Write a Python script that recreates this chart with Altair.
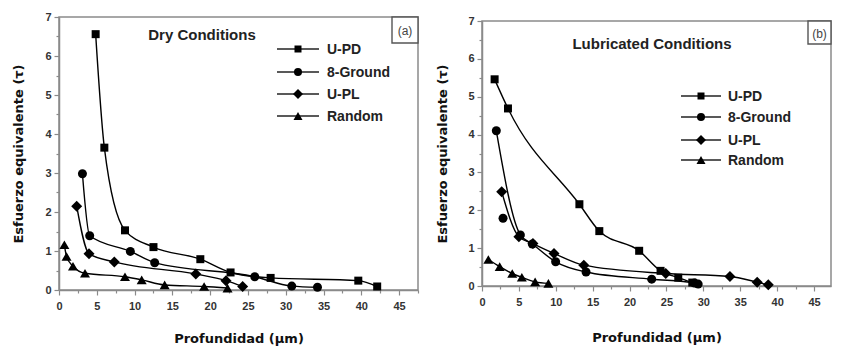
import altair as alt
import pandas as pd

series_names = ["U-PD", "8-Ground", "U-PL", "Random"]
series_shapes = ["square", "circle", "diamond", "triangle-up"]
series_sizes = [64, 81, 121, 100]
legend_sizes = [49, 64, 100, 81]

x_ticks = [0, 2.5, 5, 7.5, 10, 12.5, 15, 17.5, 20, 22.5, 25, 27.5, 30, 32.5, 35, 37.5, 40, 42.5, 45, 47.5]
y_ticks = [0, 0.5, 1, 1.5, 2, 2.5, 3, 3.5, 4, 4.5, 5, 5.5, 6, 6.5, 7]

# (a) Dry conditions
dry_upd_x = [4.85, 6.0, 8.73, 12.5, 18.7, 22.7, 28.0, 39.6, 42.1]
dry_upd_y = [6.56, 3.65, 1.53, 1.10, 0.79, 0.45, 0.31, 0.24, 0.09]
dry_8g_x = [3.1, 4.06, 9.44, 12.66, 25.9, 30.8, 34.2]
dry_8g_y = [2.98, 1.39, 0.99, 0.70, 0.34, 0.10, 0.07]
dry_upl_x = [2.34, 3.97, 7.32, 18.1, 22.1, 24.3]
dry_upl_y = [2.15, 0.93, 0.72, 0.41, 0.24, 0.09]
dry_rnd_x = [0.71, 1.0, 1.85, 3.44, 8.73, 10.94, 13.98, 19.2, 22.3]
dry_rnd_y = [1.16, 0.86, 0.61, 0.43, 0.34, 0.26, 0.13, 0.09, 0.05]

# (b) Lubricated conditions
lub_upd_x = [1.71, 3.52, 13.2, 15.9, 21.3, 24.2, 26.6, 28.5]
lub_upd_y = [5.46, 4.69, 2.16, 1.45, 0.93, 0.40, 0.22, 0.09]
lub_8g_x = [1.94, 2.85, 5.2, 6.82, 9.98, 14.1, 23.0, 28.8, 29.3]
lub_8g_y = [4.10, 1.79, 1.35, 1.11, 0.64, 0.37, 0.18, 0.08, 0.05]
lub_8g_on_curve = [1, 0, 1, 1, 1, 1, 1, 1, 1]
lub_upl_x = [2.67, 5.0, 6.9, 9.76, 13.8, 24.9, 33.6, 37.3, 38.8]
lub_upl_y = [2.49, 1.30, 1.12, 0.86, 0.55, 0.33, 0.25, 0.10, 0.03]
lub_rnd_x = [0.86, 2.4, 4.1, 5.4, 7.2, 9.0]
lub_rnd_y = [0.70, 0.51, 0.33, 0.23, 0.11, 0.07]


def make_df(xs_list, ys_list, curve_flags):
    rows = []
    for name, xs, ys, flags in zip(series_names, xs_list, ys_list, curve_flags):
        if flags is None:
            flags = [1] * len(xs)
        for xv, yv, f in zip(xs, ys, flags):
            rows.append({"series": name, "x": xv, "y": yv, "on_curve": f})
    return pd.DataFrame(rows)


dry_df = make_df([dry_upd_x, dry_8g_x, dry_upl_x, dry_rnd_x],
                 [dry_upd_y, dry_8g_y, dry_upl_y, dry_rnd_y],
                 [None, None, None, None])
lub_df = make_df([lub_upd_x, lub_8g_x, lub_upl_x, lub_rnd_x],
                 [lub_upd_y, lub_8g_y, lub_upl_y, lub_rnd_y],
                 [None, lub_8g_on_curve, None, None])

AXIS_GRAY = "#8a8a8a"


def panel(df, w, h, xmax, title_text, title_pos, tag, tag_box, leg, ytitle_pad, xtitle_pad):
    xs = alt.Scale(domain=[0, xmax], nice=False, zero=False)
    ys = alt.Scale(domain=[0, 7], nice=False, zero=False)
    base = alt.Chart(df)
    x_axis = alt.Axis(
        values=x_ticks, title="Profundidad (µm)",
        labelExpr="(datum.value % 5 === 0) ? format(datum.value, 'd') : ''",
        tickSize={"condition": {"test": "datum.value % 5 === 0", "value": 5}, "value": 3},
        labelOverlap=False, labelFlush=False,
        labelPadding=5, titlePadding=xtitle_pad, orient="bottom")
    y_axis = alt.Axis(
        values=y_ticks, title="Esfuerzo equivalente (τ)",
        labelExpr="(datum.value % 1 === 0) ? format(datum.value, 'd') : ''",
        tickSize={"condition": {"test": "datum.value % 1 === 0", "value": 5}, "value": 3},
        labelOverlap=False, labelFlush=False,
        labelPadding=3, titlePadding=ytitle_pad, orient="left")
    x_enc = alt.X("x:Q", scale=xs, axis=x_axis)
    y_enc = alt.Y("y:Q", scale=ys, axis=y_axis)
    lines = base.transform_filter("datum.on_curve == 1").mark_line(
        interpolate="monotone", color="black", strokeWidth=1.4
    ).encode(x=x_enc, y=y_enc, detail="series:N")

    layers = [lines]
    for name, shp, sz in zip(series_names, series_shapes, series_sizes):
        layers.append(
            base.transform_filter(alt.datum.series == name).mark_point(
                shape=shp, size=sz, filled=True, color="black", opacity=1, strokeWidth=0
            ).encode(x=x_enc, y=y_enc)
        )

    # title inside plot
    layers.append(
        alt.Chart(alt.Data(values=[{}])).mark_text(
            text=title_text, font="Liberation Sans", fontWeight="bold", fontSize=15,
            color="#222", align="center", baseline="middle"
        ).encode(x=alt.value(title_pos[0]), y=alt.value(title_pos[1]))
    )
    # tag box
    bx0, bx1, by0, by1 = tag_box
    layers.append(
        alt.Chart(alt.Data(values=[{}])).mark_rect(
            fill="white", stroke="#555", strokeWidth=1.4
        ).encode(x=alt.value(bx0), x2=alt.value(bx1), y=alt.value(by0), y2=alt.value(by1))
    )
    layers.append(
        alt.Chart(alt.Data(values=[{}])).mark_text(
            text=tag, font="Liberation Sans", fontSize=12, color="#444",
            align="center", baseline="middle"
        ).encode(x=alt.value((bx0 + bx1) / 2), y=alt.value((by0 + by1) / 2 + 1))
    )
    # manual legend
    lx0, lx1, ltx, lrows = leg
    for name, shp, sz, ly in zip(series_names, series_shapes, legend_sizes, lrows):
        layers.append(
            alt.Chart(alt.Data(values=[{}])).mark_rule(color="#222", strokeWidth=1.4).encode(
                x=alt.value(lx0), x2=alt.value(lx1), y=alt.value(ly))
        )
        layers.append(
            alt.Chart(alt.Data(values=[{}])).mark_point(
                shape=shp, size=sz, filled=True, color="black", opacity=1, strokeWidth=0
            ).encode(x=alt.value((lx0 + lx1) / 2), y=alt.value(ly))
        )
        layers.append(
            alt.Chart(alt.Data(values=[{}])).mark_text(
                text=name, font="Liberation Sans", fontWeight="bold", fontSize=14,
                color="#222", align="left", baseline="middle"
            ).encode(x=alt.value(ltx), y=alt.value(ly + 1))
        )
    return alt.layer(*layers).properties(width=w, height=h)


left = panel(dry_df, 359, 273, 47.5, "Dry Conditions", (143, 18), "(a)", (333, 359, 0, 26),
             (218, 260, 268, [32, 55, 77, 99]), 19, 21)
right = panel(lub_df, 349, 265, 47.3, "Lubricated Conditions", (170, 23), "(b)", (326, 349, 0, 23),
              (199, 239, 246, [75, 96, 119, 139]), 18, 24)

spacer = alt.Chart(alt.Data(values=[{}])).mark_point(opacity=0).encode(
    x=alt.value(0), y=alt.value(0)
).properties(width=349, height=1, view=alt.ViewBackground(stroke=None))

right_col = alt.vconcat(spacer, right, spacing=-6)

chart = alt.hconcat(left, right_col, spacing=16).properties(
    padding={"left": 12, "top": 10, "right": 0, "bottom": 0},
    background="white"
).configure_view(
    stroke=AXIS_GRAY, strokeWidth=1.5
).configure_axis(
    domainColor=AXIS_GRAY, domainWidth=1.5, tickColor=AXIS_GRAY, tickWidth=1.2,
    labelFont="Liberation Sans", labelFontWeight="bold", labelFontSize=11, labelColor="#333",
    titleFont="DejaVu Sans", titleFontWeight="bold", titleFontSize=13, titleColor="#111",
    grid=False, labelOverlap=False
)

chart.save("out.html", embed_options={"renderer": "svg", "actions": False})
